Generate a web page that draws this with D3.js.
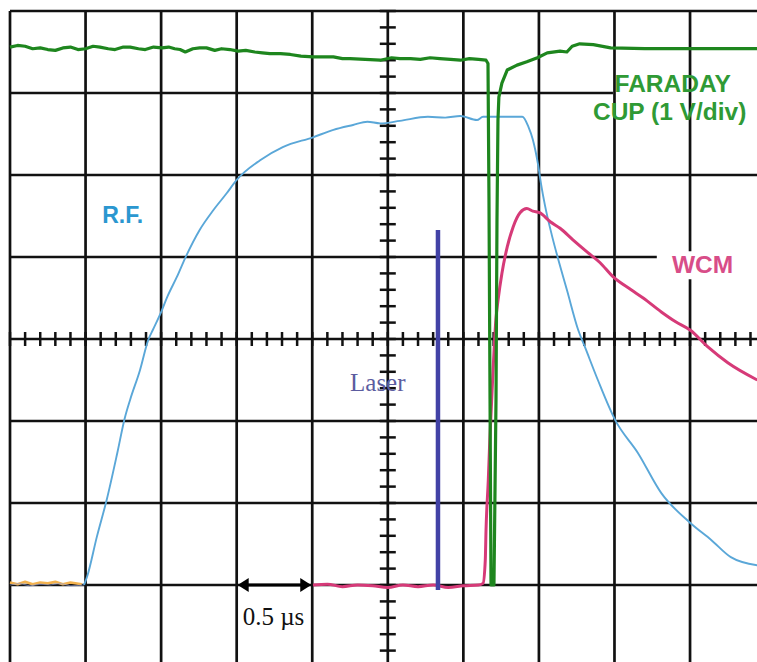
<!DOCTYPE html>
<html>
<head>
<meta charset="utf-8">
<script src="https://cdn.jsdelivr.net/npm/d3@7/dist/d3.min.js"></script>
<style>
  html, body { margin: 0; padding: 0; background: #fff; }
  svg { display: block; }
</style>
</head>
<body>
<svg id="chart" width="757" height="662"></svg>
<script>
// ---- DATA (x: time in divisions, 0.5 µs/div; y: amplitude in divisions, 0 = centre) ----
const timeDivisions = [0, 1, 2, 3, 4, 5, 6, 7, 8, 9, 10];
const ampDivisions = [-4, -3, -2, -1, 0, 1, 2, 3, 4];

const faradayCup = [
  [0, 3.56], [0.1, 3.58], [0.2, 3.57], [0.3, 3.54], [0.4, 3.55], [0.5, 3.53], [0.6, 3.52],
  [0.7, 3.55], [0.8, 3.56], [0.9, 3.53], [1.0, 3.54], [1.1, 3.57], [1.19, 3.56],
  [1.3, 3.54], [1.39, 3.53], [1.5, 3.56], [1.59, 3.56], [1.7, 3.54], [1.79, 3.53],
  [1.9, 3.56], [2.01, 3.55], [2.1, 3.56], [2.18, 3.54], [2.25, 3.53], [2.32, 3.50],
  [2.42, 3.54], [2.51, 3.55], [2.6, 3.55], [2.71, 3.52], [2.8, 3.54], [2.91, 3.53],
  [3.02, 3.51], [3.12, 3.52], [3.24, 3.50], [3.34, 3.49], [3.44, 3.48], [3.58, 3.48],
  [3.71, 3.47], [3.85, 3.45], [4.01, 3.44], [4.15, 3.44], [4.28, 3.44], [4.4, 3.42], [4.50, 3.42],
  [4.70, 3.41], [4.90, 3.40], [5.05, 3.43], [5.16, 3.42], [5.3, 3.42], [5.43, 3.41],
  [5.56, 3.43], [5.69, 3.42], [5.83, 3.41], [5.96, 3.40], [6.08, 3.42], [6.20, 3.41], [6.30, 3.40],
  [6.326, 3.36], [6.339, 1.7], [6.353, -0.74], [6.366, -3.0], [6.405, -3.0], [6.432, -0.74],
  [6.445, 1.45], [6.458, 2.67], [6.47, 2.95], [6.51, 3.12], [6.58, 3.28], [6.71, 3.34],
  [6.84, 3.38], [6.98, 3.43], [7.11, 3.49], [7.28, 3.51], [7.37, 3.50], [7.44, 3.57],
  [7.54, 3.60], [7.72, 3.59], [7.95, 3.55], [8.40, 3.54], [9.13, 3.54], [9.89, 3.54]
];

const rf = [
  [0, -3.0], [0.13, -2.98], [0.26, -3.01], [0.4, -2.99], [0.53, -3.0], [0.66, -2.98],
  [0.8, -3.01], [0.98, -3.0], [1.02, -2.90], [1.15, -2.41], [1.28, -1.96], [1.42, -1.39],
  [1.52, -0.96], [1.59, -0.74], [1.72, -0.38], [1.83, -0.01], [1.89, 0.11], [2.01, 0.35],
  [2.08, 0.51], [2.21, 0.76], [2.32, 0.99], [2.51, 1.33], [2.69, 1.57], [2.87, 1.78],
  [3.00, 1.94], [3.31, 2.18], [3.61, 2.34], [4.01, 2.46], [4.28, 2.55], [4.54, 2.61],
  [4.73, 2.65], [4.90, 2.63], [5.16, 2.66], [5.53, 2.71], [5.76, 2.70], [5.96, 2.72],
  [6.18, 2.67], [6.26, 2.71], [6.49, 2.71], [6.78, 2.71], [6.86, 2.59], [6.92, 2.43],
  [6.99, 2.12], [7.03, 1.88], [7.08, 1.63], [7.17, 1.27], [7.25, 0.99], [7.37, 0.60],
  [7.52, 0.11], [7.61, -0.10], [7.78, -0.50], [8.01, -0.99], [8.31, -1.39], [8.62, -1.88],
  [9.00, -2.24], [9.28, -2.45], [9.54, -2.66], [9.89, -2.76]
];

const wcm = [
  [4.01, -3.0], [4.2, -2.99], [4.4, -3.02], [4.6, -3.0], [4.8, -3.01], [5.0, -3.03],
  [5.2, -3.0], [5.4, -3.02], [5.6, -3.0], [5.8, -3.03], [6.0, -3.01], [6.2, -3.0],
  [6.26, -2.98], [6.29, -2.70], [6.30, -2.33], [6.33, -1.72], [6.35, -1.23], [6.39, -0.44],
  [6.43, 0.23], [6.46, 0.48], [6.51, 0.80], [6.58, 1.12], [6.66, 1.37], [6.75, 1.54],
  [6.84, 1.59], [6.92, 1.56], [7.01, 1.54], [7.15, 1.43], [7.28, 1.35], [7.45, 1.21],
  [7.64, 1.06], [7.81, 0.93], [7.98, 0.76], [8.22, 0.60], [8.38, 0.50], [8.62, 0.33],
  [8.81, 0.21], [9.0, 0.11], [9.24, -0.10], [9.50, -0.29], [9.89, -0.5]
];

const fourthChannel = [
  [0, -2.97], [0.1, -2.99], [0.2, -2.96], [0.3, -2.99], [0.4, -2.97], [0.5, -2.98],
  [0.6, -2.96], [0.7, -2.99], [0.8, -2.97], [0.95, -2.99]
];

const laserPulse = [[5.664, 1.33], [5.664, -3.06]];
const timeMarker = [3.0, 4.0];      // one division = 0.5 µs
const markerLevel = -3;

const labels = {
  rf: "R.F.",
  faraday1: "FARADAY",
  faraday2: "CUP (1 V/div)",
  wcm: "WCM",
  laser: "Laser",
  timebase: "0.5 µs"
};

// ---- SCALES ----
const svg = d3.select("#chart");
const x = d3.scaleLinear().domain([0, 10]).range([10, 765.6]);
const y = d3.scaleLinear().domain([-4, 4]).range([667, 11]);

const GRID = "#111";
const gridW = 2.7;

// ---- GRID ----
const g = svg.append("g");
g.selectAll("line.v").data(timeDivisions).join("line")
  .attr("x1", d => x(d)).attr("x2", d => x(d))
  .attr("y1", y(4)).attr("y2", y(-4))
  .attr("stroke", GRID).attr("stroke-width", gridW);
const hEnd = d => d === 3 ? x(7.98) : (d === 1 ? x(8.56) : x(10));
g.selectAll("line.h").data(ampDivisions).join("line")
  .attr("x1", x(0)).attr("x2", d => hEnd(d))
  .attr("y1", d => y(d)).attr("y2", d => y(d))
  .attr("stroke", GRID).attr("stroke-width", gridW);

const minorX = d3.range(0, 50.5).map(i => i * 0.2);
const minorY = d3.range(0, 40.5).map(i => -4 + i * 0.2);
g.selectAll("line.tx").data(minorX).join("line")
  .attr("x1", d => x(d)).attr("x2", d => x(d))
  .attr("y1", y(0) - 7).attr("y2", y(0) + 7)
  .attr("stroke", GRID).attr("stroke-width", 2.5);
g.selectAll("line.ty").data(minorY).join("line")
  .attr("x1", x(5) - 8).attr("x2", x(5) + 8)
  .attr("y1", d => y(d)).attr("y2", d => y(d))
  .attr("stroke", GRID).attr("stroke-width", 2.5);

// ---- TIME MARKER ARROW ----
const ax1 = x(timeMarker[0]) + 1, ax2 = x(timeMarker[1]) - 1, ay = y(markerLevel);
svg.append("line").attr("x1", ax1 + 6).attr("x2", ax2 - 6).attr("y1", ay).attr("y2", ay)
  .attr("stroke", "#000").attr("stroke-width", 3);
svg.append("path").attr("d", `M${ax1},${ay} L${ax1 + 11},${ay - 7} L${ax1 + 11},${ay + 7} Z`).attr("fill", "#000");
svg.append("path").attr("d", `M${ax2},${ay} L${ax2 - 11},${ay - 7} L${ax2 - 11},${ay + 7} Z`).attr("fill", "#000");

// ---- TRACES ----
const line = d3.line().x(d => x(d[0])).y(d => y(d[1]));
const smooth = d3.line().x(d => x(d[0])).y(d => y(d[1])).curve(d3.curveMonotoneX);

svg.append("path").datum(fourthChannel).attr("d", line)
  .attr("fill", "none").attr("stroke", "#f3b24e").attr("stroke-width", 2.6).attr("stroke-linejoin", "round");
svg.append("path").datum(rf.slice(0, 8)).attr("d", line)
  .attr("fill", "none").attr("stroke", "#8fa0d8").attr("stroke-width", 1.2).attr("opacity", 0.6);

svg.append("path").datum(rf.slice(7)).attr("d", smooth)
  .attr("fill", "none").attr("stroke", "#5aa7d8").attr("stroke-width", 1.9).attr("stroke-linejoin", "round");

svg.append("path").datum(wcm).attr("d", smooth)
  .attr("fill", "none").attr("stroke", "#d63a78").attr("stroke-width", 3).attr("stroke-linejoin", "round");

svg.append("path").datum(laserPulse).attr("d", line)
  .attr("fill", "none").attr("stroke", "#4242a6").attr("stroke-width", 4.5);

svg.append("path").datum(faradayCup).attr("d", line)
  .attr("fill", "none").attr("stroke", "#1e861e").attr("stroke-width", 3.2).attr("stroke-linejoin", "round");

// ---- LABELS ----
const sans = "'Liberation Sans', Arial, Helvetica, sans-serif";
const serif = "'Liberation Serif', 'Times New Roman', serif";

svg.append("text").attr("x", x(1.22)).attr("y", y(1.41)).text(labels.rf)
  .attr("font-family", sans).attr("font-weight", "bold").attr("font-size", 23).attr("fill", "#2b97d0");

svg.append("text").attr("x", x(8.77)).attr("y", y(3.01)).text(labels.faraday1)
  .attr("text-anchor", "middle").attr("font-family", sans).attr("font-weight", "bold")
  .attr("font-size", 24.5).attr("fill", "#2f9a35");
svg.append("text").attr("x", x(8.73)).attr("y", y(2.67)).text(labels.faraday2)
  .attr("text-anchor", "middle").attr("font-family", sans).attr("font-weight", "bold")
  .attr("font-size", 24.5).attr("fill", "#2f9a35");

svg.append("rect").attr("x", x(8.72)).attr("y", y(1.07)).attr("width", 66).attr("height", 28).attr("fill", "#fff");
svg.append("text").attr("x", x(8.76)).attr("y", y(0.80)).text(labels.wcm)
  .attr("font-family", sans).attr("font-weight", "bold").attr("font-size", 24.5).attr("fill", "#d84d88");

svg.append("text").attr("x", x(4.50)).attr("y", y(-0.63)).text(labels.laser)
  .attr("font-family", serif).attr("font-size", 25).attr("fill", "#5c5ca0");

svg.append("text").attr("x", x(3.08)).attr("y", y(-3.49)).text(labels.timebase)
  .attr("font-family", serif).attr("font-size", 25).attr("fill", "#111");
</script>
</body>
</html>
